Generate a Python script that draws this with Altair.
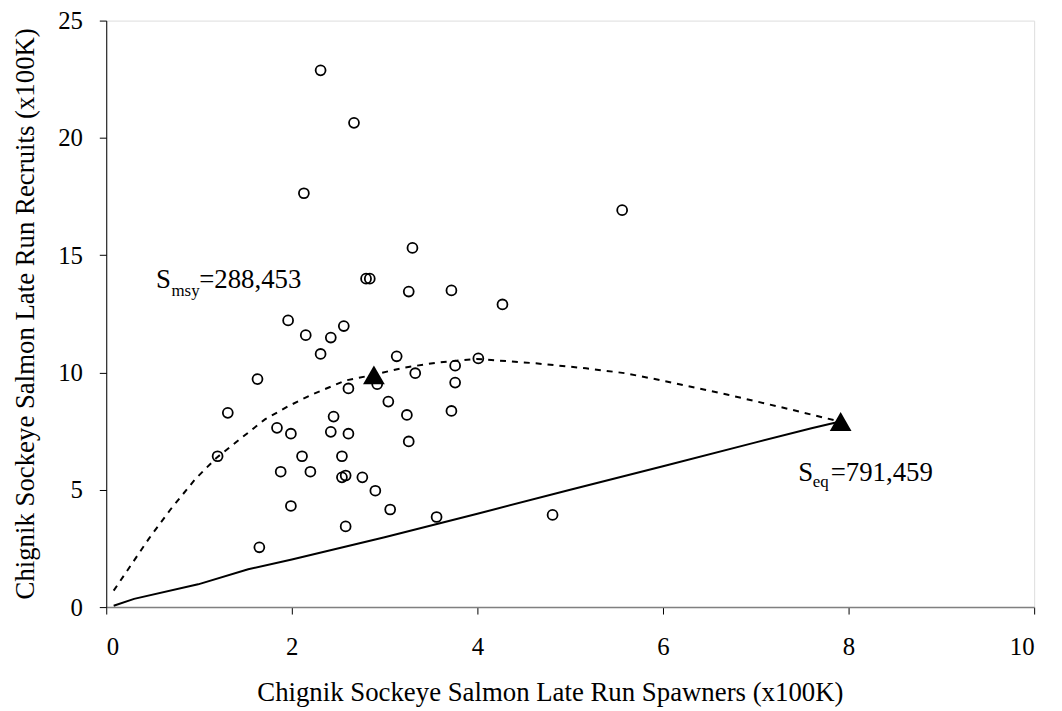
import altair as alt
import pandas as pd

# Observed spawner-recruit pairs (x100K)
spawners = [2.31, 2.67, 2.13, 5.56, 3.30, 2.80, 2.84, 3.26, 3.72, 4.27,
            1.96, 2.15, 2.42, 2.56, 2.31, 3.13, 1.63, 2.92, 2.61, 3.33,
            3.76, 4.01, 3.76, 3.04, 3.24, 3.72, 3.26, 1.31, 2.45, 1.84,
            1.99, 2.42, 2.61, 1.20, 2.11, 2.54, 1.88, 2.20, 2.54, 2.58,
            2.76, 2.90, 1.99, 3.06, 3.56, 2.58, 1.65, 4.81]
recruits = [22.88, 20.64, 17.64, 16.92, 15.31, 14.00, 14.00, 13.45, 13.50, 12.90,
            12.22, 11.59, 11.49, 11.98, 10.79, 10.69, 9.72, 9.50, 9.32, 9.97,
            10.29, 10.60, 9.57, 8.76, 8.19, 8.36, 7.06, 8.28, 8.12, 7.64,
            7.39, 7.47, 7.39, 6.43, 6.43, 6.43, 5.77, 5.77, 5.53, 5.61,
            5.53, 4.96, 4.31, 4.16, 3.84, 3.44, 2.55, 3.93]

# Fitted spawner-recruit curve (dashed)
curve_x = [0.08, 0.46, 0.69, 0.96, 1.19, 1.46, 1.71, 1.96, 2.21, 2.58, 2.88,
           3.20, 3.56, 3.99, 4.63, 5.17, 5.59, 5.99, 6.70, 7.38, 7.77, 7.91]
curve_y = [0.70, 2.92, 4.15, 5.46, 6.37, 7.22, 8.00, 8.56, 9.05, 9.66, 9.90,
           10.20, 10.42, 10.58, 10.39, 10.18, 9.97, 9.66, 9.05, 8.42, 8.04, 7.91]

# Replacement line (solid)
repl_x = [0.08, 0.30, 0.99, 1.53, 2.00, 3.00, 4.00, 4.99, 6.00, 7.00, 7.60, 7.91]
repl_y = [0.06, 0.35, 0.97, 1.61, 2.03, 2.98, 3.98, 4.99, 6.00, 7.02, 7.62, 7.91]

# Reference points: Smsy and Seq
ref_x = [2.88453, 7.91459]
ref_y = [9.90, 7.91]

# Annotations
ann_text = ["S", "msy", "=288,453", "S", "eq", "=791,459"]
ann_x = [0.535, 0.703, 1.002, 7.458, 7.615, 7.807]
ann_y = [13.62, 13.28, 13.62, 5.372, 5.10, 5.372]
ann_fs = [27, 17, 27, 27, 17, 27]

FONT = "Liberation Serif"

pts = pd.DataFrame({"x": spawners, "y": recruits})
curve = pd.DataFrame({"x": curve_x, "y": curve_y})
repl = pd.DataFrame({"x": repl_x, "y": repl_y})
refs = pd.DataFrame({"x": ref_x, "y": ref_y})
ann = pd.DataFrame({"x": ann_x, "y": ann_y, "t": ann_text, "fs": ann_fs})

xscale = alt.Scale(domain=[0, 10], nice=False, zero=True)
yscale = alt.Scale(domain=[0, 25], nice=False, zero=True)

xaxis = alt.Axis(values=[0, 2, 4, 6, 8, 10], format="d", grid=False, tickSize=7,
                 labelFontSize=25, labelFont=FONT, labelColor="black",
                 labelBaseline="alphabetic", labelPadding=41,
                 domainColor="#808080", domainWidth=1.5, tickColor="black",
                 title="Chignik Sockeye Salmon Late Run Spawners (x100K)",
                 titleFont=FONT, titleFontSize=27, titleFontWeight="normal",
                 titleColor="black", titleBaseline="alphabetic",
                 titleX=447, titleY=94, titleAlign="center")
yaxis = alt.Axis(values=[0, 5, 10, 15, 20, 25], format="d", grid=False, tickSize=7,
                 labelFontSize=25, labelFont=FONT, labelColor="black",
                 labelPadding=17, domainColor="black", tickColor="black",
                 title="Chignik Sockeye Salmon Late Run Recruits (x100K)",
                 titleFont=FONT, titleFontSize=27, titleFontWeight="normal",
                 titleColor="black", titleBaseline="alphabetic",
                 titleX=-73, titleY=295, titleAlign="center", titleAngle=270)

X = alt.X("x:Q", scale=xscale, axis=xaxis)
Y = alt.Y("y:Q", scale=yscale, axis=yaxis)

repl_line = alt.Chart(repl).mark_line(color="black", strokeWidth=2).encode(x=X, y=Y)
curve_line = alt.Chart(curve).mark_line(color="black", strokeWidth=2,
                                        strokeDash=[6, 6]).encode(x="x:Q", y="y:Q")
circles = alt.Chart(pts).mark_point(shape="circle", filled=False, size=100,
                                    strokeWidth=1.8, color="black",
                                    opacity=1).encode(x="x:Q", y="y:Q")
tris = alt.Chart(refs).mark_point(shape="triangle-up", filled=True, size=480,
                                  color="black", opacity=1).encode(x="x:Q", y="y:Q")
labels = alt.Chart(ann).mark_text(align="left", baseline="alphabetic",
                                  font=FONT, color="black").encode(
    x="x:Q", y="y:Q", text="t:N", size=alt.Size("fs:Q", scale=None, legend=None))

chart = alt.layer(repl_line, curve_line, circles, tris, labels).properties(
    width=935, height=591,
    autosize=alt.AutoSizeParams(type="none"),
    padding={"left": 99, "top": 10, "right": 20, "bottom": 100},
).configure_view(stroke=None).configure(background="white")

chart.save("out.html", embed_options={"renderer": "svg", "actions": False})
